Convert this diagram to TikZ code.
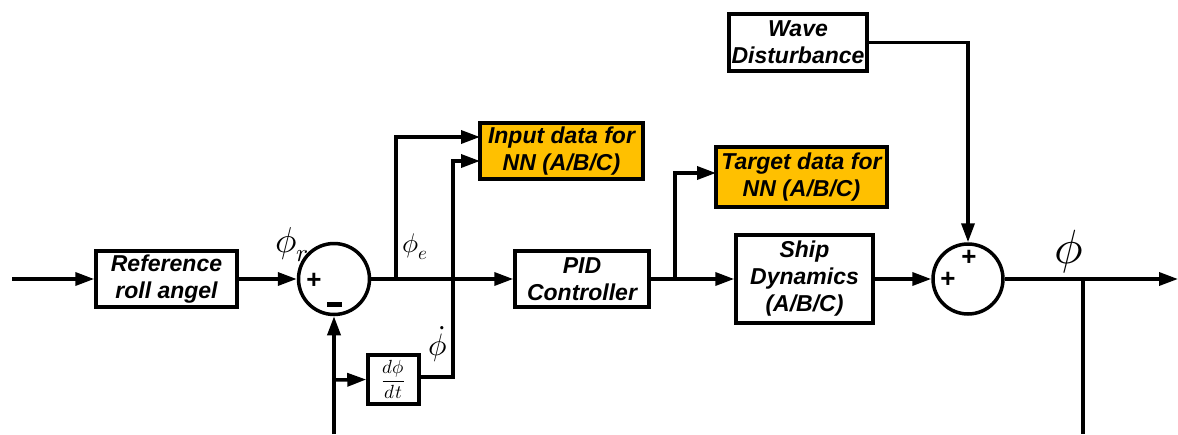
\documentclass[tikz,border=0pt]{standalone}
\usepackage{fontspec}
\setmainfont{Liberation Sans}
\usepackage{unicode-math}
\setmathfont{Latin Modern Math}
\usetikzlibrary{arrows.meta}
\definecolor{nnorange}{HTML}{FFC000}
\begin{document}
\begin{tikzpicture}[x=1pt,y=-1pt,
  blk/.style={draw, line width=3.5pt, align=center, inner sep=0pt,
    font=\bfseries\itshape\fontsize{23}{27}\selectfont},
  nnblk/.style={blk, fill=nnorange},
  sumc/.style={draw, circle, line width=3.5pt, minimum size=71pt, inner sep=0pt},
  ln/.style={line width=3.5pt},
  arr/.style={line width=3.5pt, -{Triangle[length=19pt,width=13pt]}},
  sgn/.style={font=\bfseries\fontsize{26}{26}\selectfont, inner sep=0pt},
  lab/.style={inner sep=0pt}]
\useasboundingbox (0,0) rectangle (1178,434);
% blocks
\node[blk, minimum width=141pt, minimum height=56pt] (ref) at (166.5,279) {Reference\\roll angel};
\node[sumc] (s1) at (334,279) {};
\node[blk, minimum width=134pt, minimum height=56pt] (pid) at (582,279) {PID\\Controller};
\node[nnblk, minimum width=163pt, minimum height=56pt] (inp) at (561.5,151) {Input data for\\NN (A/B/C)};
\node[blk, minimum width=51pt, minimum height=49pt, font=\fontsize{19}{19}\selectfont] (der) at (393.5,379.5) {$\dfrac{d\phi}{dt}$};
\node[nnblk, minimum width=171pt, minimum height=60pt] (tgt) at (801.5,177) {Target data for\\NN (A/B/C)};
\node[blk, minimum width=137pt, minimum height=88pt] (ship) at (804.5,279) {Ship\\Dynamics\\(A/B/C)};
\node[sumc, minimum size=70pt] (s2) at (968,279) {};
\node[blk, minimum width=138pt, minimum height=57pt] (wave) at (798,42.5) {Wave\\Disturbance};
% signs
\node[sgn] (p1) at (314,281) {+};
\fill (326.5,302) rectangle (341.5,306.5);
\node[sgn] (p2) at (948,280) {+};
\node[sgn] (p3) at (969,258) {+};
% labels
\node[lab, font=\fontsize{36}{36}\selectfont] (lr) at (292,245) {$\phi_{r}$};
\node[lab, font=\fontsize{27}{27}\selectfont] (le) at (415,247) {$\phi_{e}$};
\node[lab, font=\fontsize{31}{31}\selectfont] (ld) at (438,344) {$\dot{\phi}$};
\node[lab, font=\fontsize{48}{48}\selectfont] (lo) at (1069,252) {$\phi$};
% coordinates
\coordinate (in) at (12,279);
\coordinate (bp1) at (396,279);
\coordinate (i1) at (480,137);
\coordinate (i2) at (480,161);
\coordinate (fb) at (334,434);
\coordinate (fbd) at (334,380);
\coordinate (dv) at (453,377);
\coordinate (bp2) at (675,279);
\coordinate (t1) at (716,173);
\coordinate (out) at (1178,279);
\coordinate (bp3) at (1083,279);
\coordinate (fe) at (1083,434);
% connectors
\draw[arr] (in) -- (ref.west);
\draw[arr] (ref.east) -- (s1.west);
\draw[arr] (s1.east) -- (pid.west);
\draw[arr] (bp1) |- (i1);
\draw[arr] (fb) -- (s1.south);
\draw[arr] (fbd) -- (der.west);
\draw[arr] (der.east |- dv) -- (dv) |- (i2);
\draw[arr] (pid.east) -- (ship.west);
\draw[arr] (bp2) |- (t1);
\draw[arr] (ship.east) -- (s2.west);
\draw[arr] (wave.east) -| (s2.north);
\draw[arr] (s2.east) -- (out);
\draw[ln] (bp3) -- (fe);
\end{tikzpicture}
\end{document}
